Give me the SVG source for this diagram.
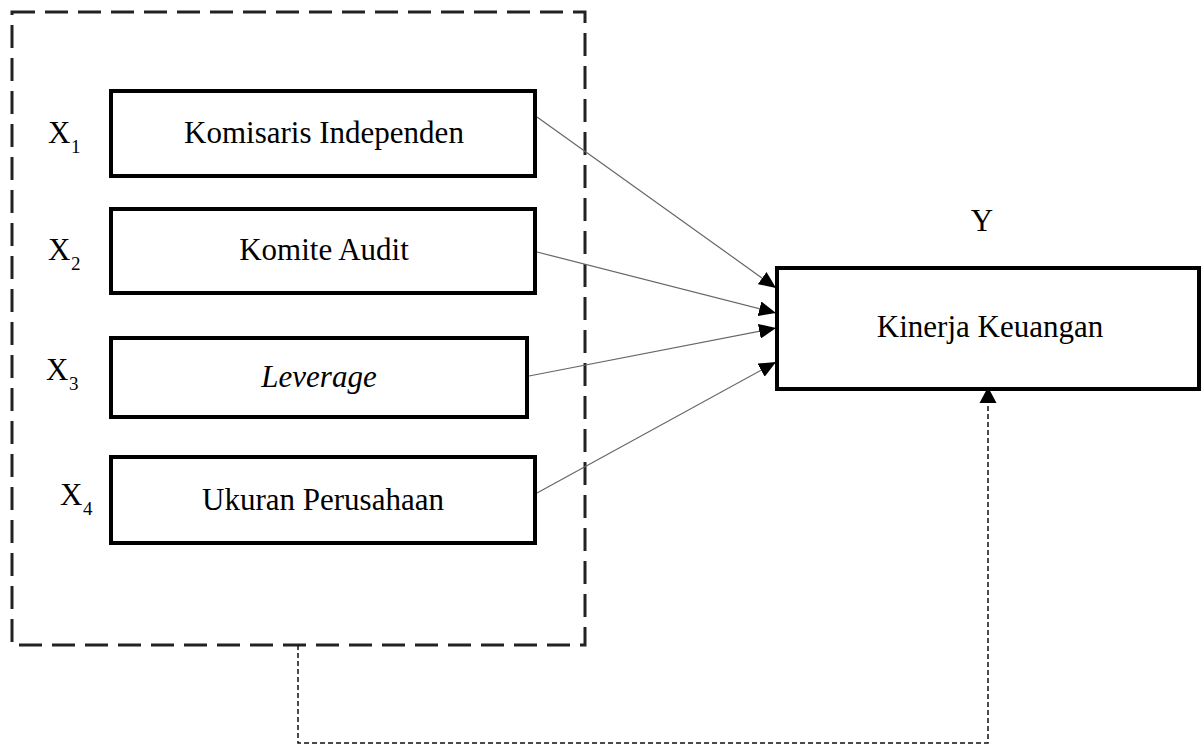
<svg xmlns="http://www.w3.org/2000/svg" width="1202" height="745" viewBox="0 0 1202 745">
  <style>
    .box { fill: #fff; stroke: #000; stroke-width: 4; }
    .lbl { font-family: "Liberation Serif", "Times New Roman", serif; font-size: 31px; fill: #000; }
    .sub { font-family: "Liberation Serif", "Times New Roman", serif; font-size: 19px; fill: #000; }
    .arrow { stroke: #666; stroke-width: 1.2; fill: none; }
    .frame { fill: none; stroke: #222; stroke-width: 3; stroke-dasharray: 23 10; }
    .dotted { fill: none; stroke: #111; stroke-width: 1.5; stroke-dasharray: 5 3; }
  </style>
  <defs>
    <marker id="ah" markerUnits="userSpaceOnUse" markerWidth="17" markerHeight="15" viewBox="0 0 17 15" refX="17" refY="7.5" orient="auto">
      <path d="M0,0 L17,7.5 L0,15 Z" fill="#000"/>
    </marker>
  </defs>
  <rect width="1202" height="745" fill="#fff"/>

  <g id="frame">
    <rect class="frame" x="12" y="12" width="573" height="633"/>
  </g>

  <g id="connectors">
    <line class="arrow" x1="537" y1="117" x2="776" y2="288" marker-end="url(#ah)"/>
    <line class="arrow" x1="537" y1="252" x2="776" y2="313" marker-end="url(#ah)"/>
    <line class="arrow" x1="529" y1="376" x2="776" y2="328" marker-end="url(#ah)"/>
    <line class="arrow" x1="537" y1="493" x2="776" y2="362" marker-end="url(#ah)"/>
    <polyline class="dotted" points="298,645 298,743 988,743 988,402"/>
    <path d="M979.5,403 L988,387 L996.5,403 Z" fill="#000"/>
  </g>

  <g id="x1">
    <rect class="box" x="111" y="91" width="424" height="85"/>
    <text class="lbl" x="324" y="143" text-anchor="middle">Komisaris Independen</text>
    <text class="lbl" x="48" y="143">X</text><text class="sub" x="71" y="153">1</text>
  </g>
  <g id="x2">
    <rect class="box" x="111" y="209" width="424" height="84"/>
    <text class="lbl" x="324" y="260" text-anchor="middle">Komite Audit</text>
    <text class="lbl" x="48" y="260">X</text><text class="sub" x="71" y="270">2</text>
  </g>
  <g id="x3">
    <rect class="box" x="111" y="338" width="416" height="79"/>
    <text class="lbl" x="319" y="387" text-anchor="middle" font-style="italic">Leverage</text>
    <text class="lbl" x="46" y="380">X</text><text class="sub" x="69" y="390">3</text>
  </g>
  <g id="x4">
    <rect class="box" x="111" y="457" width="424" height="86"/>
    <text class="lbl" x="323" y="510" text-anchor="middle">Ukuran Perusahaan</text>
    <text class="lbl" x="60" y="505">X</text><text class="sub" x="83" y="515">4</text>
  </g>
  <g id="y">
    <rect class="box" x="777" y="268" width="422" height="121"/>
    <text class="lbl" x="990" y="337" text-anchor="middle">Kinerja Keuangan</text>
    <text class="lbl" x="982" y="231" text-anchor="middle">Y</text>
  </g>
</svg>
